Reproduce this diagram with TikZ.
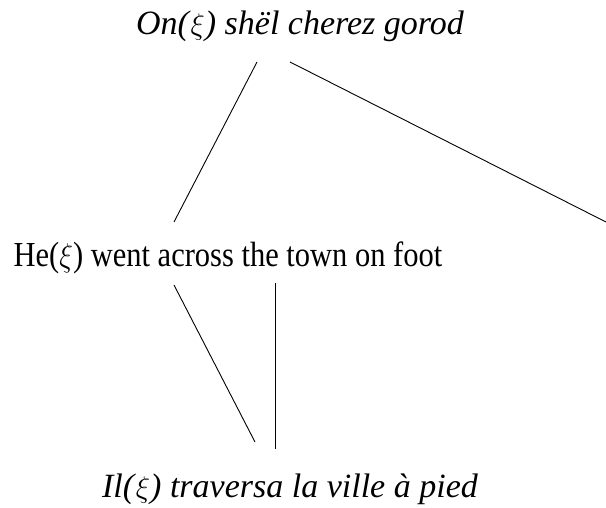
\documentclass[tikz,border=0pt]{standalone}
\usepackage{fontspec}
\setmainfont{Liberation Serif}
\usetikzlibrary{calc}
\newcommand{\xiglyph}{\textup{\scalebox{1.2}{$\xi$}}}
\begin{document}
\begin{tikzpicture}[x=1pt,y=-1pt,
  lbl/.style={inner sep=0pt,anchor=base,font=\fontsize{30.5}{36}\selectfont},
  ilbl/.style={inner sep=0pt,anchor=base,font=\fontsize{34}{40}\selectfont\itshape},
  thin line/.style={line width=0.9pt},
  thick line/.style={line width=1.9pt}]
\useasboundingbox (0,0) rectangle (606,508);
\node[ilbl] (top) at (300,35) {On(\xiglyph) shël cherez gorod};
\node[lbl] (mid) at (228,266) {\scalebox{1}[1.15]{He(\scalebox{1.15}{$\xi$}) went across the town on foot}};
\node[ilbl] (bot) at (290,497) {Il(\xiglyph) traversa la ville à pied};
\coordinate (t1) at (257,62);
\coordinate (t2) at (290,62);
\coordinate (m1) at (174,222);
\coordinate (r1) at (606,222);
\coordinate (m2) at (174,285);
\coordinate (m3) at (275.5,283);
\coordinate (b1) at (255,442);
\coordinate (b2) at (275.5,449);
\draw[thin line] (t1) -- (m1);
\draw[thin line] (t2) -- (r1);
\draw[thin line] (m2) -- (b1);
\draw[thick line] (m3) -- (b2);
\end{tikzpicture}
\end{document}
